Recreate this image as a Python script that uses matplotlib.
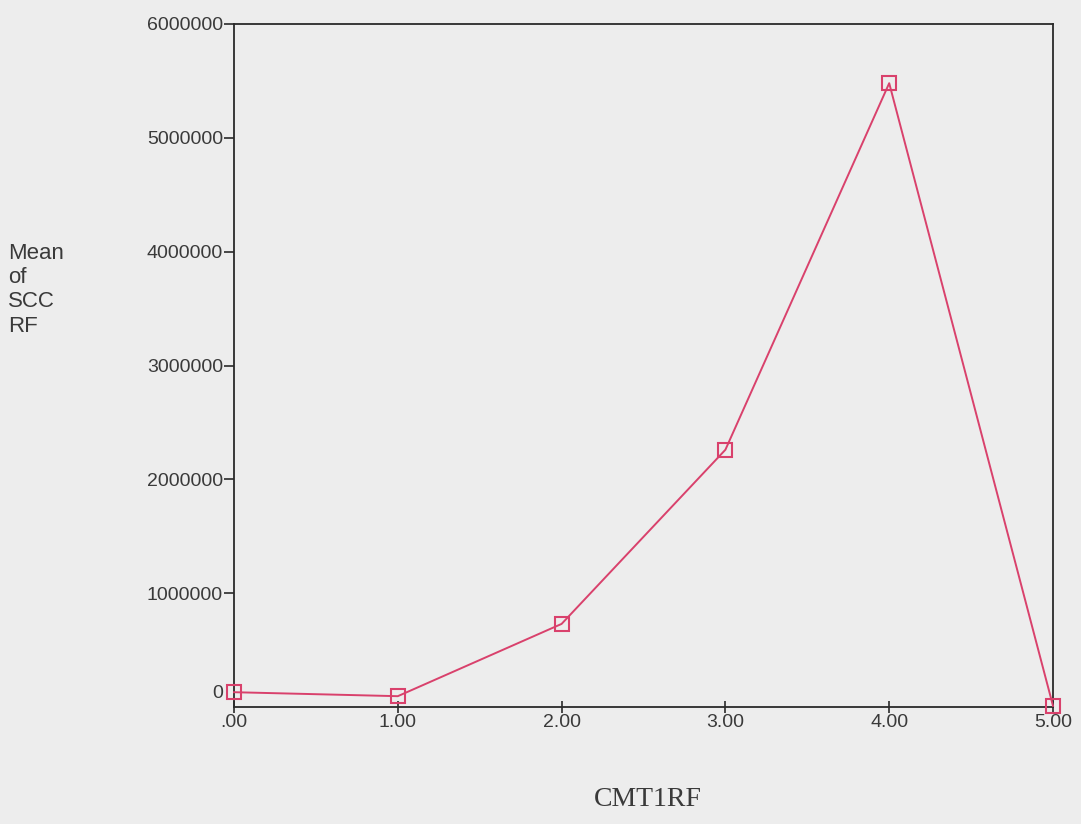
import matplotlib
matplotlib.use("Agg")
import matplotlib.pyplot as plt
import matplotlib.transforms as mtransforms

categories = [0.0, 1.0, 2.0, 3.0, 4.0, 5.0]
x_labels = [".00", "1.00", "2.00", "3.00", "4.00", "5.00"]
mean_scc_rf = [130000, 95000, 730000, 2260000, 5480000, 10000]
y_ticks = [0, 1000000, 2000000, 3000000, 4000000, 5000000, 6000000]
y_labels = ["0", "1000000", "2000000", "3000000", "4000000", "5000000", "6000000"]

bg = "#ededed"
line_col = "#d9416c"
sans = ["Liberation Sans", "DejaVu Sans"]
serif = ["Liberation Serif", "DejaVu Serif"]

fig = plt.figure(figsize=(10.81, 8.24), dpi=100, facecolor=bg)
ax = fig.add_axes([234/1081, 1-707/824, (1053-234)/1081, (707-24)/824])
ax.set_facecolor(bg)

ax.plot(categories, mean_scc_rf, color=line_col, lw=1.4, marker="s", ms=10,
        mfc="none", mec=line_col, mew=1.5, clip_on=False, zorder=3)

ax.set_xlim(0, 5)
ax.set_ylim(0, 6000000)
ax.set_xticks(categories)
ax.set_xticklabels(x_labels, fontsize=14, family=sans, color="#3a3a3a")
ax.set_yticks(y_ticks)
ax.set_yticklabels(y_labels, fontsize=14, family=sans, color="#3a3a3a")

for s in ax.spines.values():
    s.set_color("#2a2a2a")
    s.set_linewidth(1.3)

ax.tick_params(axis="y", direction="out", length=7, width=1.2, color="#2a2a2a", pad=1)
ax.tick_params(axis="x", direction="inout", length=8, width=1.2, color="#2a2a2a", pad=1)

# the "0" label sits slightly above the axis origin, without a tick mark
t0 = ax.yaxis.get_major_ticks()[0]
t0.tick1line.set_visible(False)
off = mtransforms.ScaledTranslation(0, 15/100, fig.dpi_scale_trans)
t0.label1.set_transform(t0.label1.get_transform() + off)

fig.text(8/1081, 1-243/824, "Mean\nof\nSCC\nRF", fontsize=16, family=sans,
         color="#3a3a3a", ha="left", va="top", linespacing=1.2)
fig.text(648/1081, 1-800/824, "CMT1RF", fontsize=20, family=serif,
         color="#3a3a3a", ha="center", va="center")

fig.savefig("out.png", dpi=100, facecolor=bg)
